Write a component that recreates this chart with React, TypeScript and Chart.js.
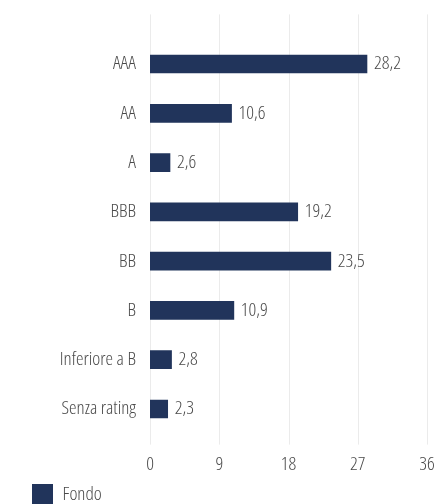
import React, { useEffect, useRef } from "react";
import { Chart, registerables } from "chart.js";

Chart.register(...registerables);

const categories = ["AAA", "AA", "A", "BBB", "BB", "B", "Inferiore a B", "Senza rating"];
const fondoValues = [28.2, 10.6, 2.6, 19.2, 23.5, 10.9, 2.8, 2.3];
const xTickValues = [0, 9, 18, 27, 36];
const seriesLabel = "Fondo";

const FONT_FAMILY = '"Open Sans", Roboto, sans-serif';
const FONT_SIZE = 19;
// font-stretch is passed through the weight slot of the canvas font shorthand
const baseFont = { family: FONT_FAMILY, size: FONT_SIZE, weight: "condensed 300" };
const TEXT = "#4a4a4a";
const BAR = "#21345b";
const GRID = "#ebebeb";

const fmt = (v: number) => v.toFixed(1).replace(".", ",");

const gridPlugin = {
  id: "extGrid",
  beforeDatasetsDraw(chart: any) {
    const { ctx, chartArea, scales } = chart;
    const x = scales.x;
    ctx.save();
    ctx.strokeStyle = GRID;
    ctx.lineWidth = 1;
    x.ticks.forEach((t: any) => {
      const px = Math.round(x.getPixelForValue(t.value)) + 0.5;
      ctx.beginPath();
      ctx.moveTo(px, chartArea.top - 25);
      ctx.lineTo(px, chartArea.bottom + 11);
      ctx.stroke();
    });
    ctx.restore();
  },
};

const valueLabelPlugin = {
  id: "valueLabels",
  afterDatasetsDraw(chart: any) {
    const ctx = chart.ctx;
    const meta = chart.getDatasetMeta(0);
    ctx.save();
    ctx.font = `condensed 300 ${FONT_SIZE}px ${FONT_FAMILY}`;
    ctx.fillStyle = TEXT;
    ctx.textAlign = "left";
    ctx.textBaseline = "middle";
    meta.data.forEach((bar: any, i: number) => {
      ctx.fillText(fmt(fondoValues[i]), bar.x + 7, bar.y);
    });
    ctx.restore();
  },
};

export default function App() {
  const canvasRef = useRef<HTMLCanvasElement | null>(null);

  useEffect(() => {
    if (!canvasRef.current) return;
    const chart = new Chart(canvasRef.current, {
      type: "bar",
      data: {
        labels: categories,
        datasets: [
          {
            label: seriesLabel,
            data: fondoValues,
            backgroundColor: BAR,
            borderWidth: 0,
            barThickness: 18,
          },
        ],
      },
      options: {
        indexAxis: "y",
        animation: false,
        responsive: true,
        maintainAspectRatio: false,
        layout: { padding: { top: 39.4, left: 22, right: 9, bottom: 5 } },
        scales: {
          x: {
            min: 0,
            max: 36,
            afterBuildTicks: (s: any) => {
              s.ticks = xTickValues.map((v) => ({ value: v }));
            },
            afterFit: (s: any) => {
              s.height = 40.4;
              s.paddingLeft = 0;
              s.paddingRight = 0;
            },
            grid: { display: false, drawTicks: false },
            border: { display: false },
            ticks: {
              color: TEXT,
              padding: 20,
              font: baseFont,
            },
          },
          y: {
            afterFit: (s: any) => {
              s.width = 128;
            },
            grid: { display: false, drawTicks: false },
            border: { display: false },
            ticks: {
              color: TEXT,
              padding: 14,
              font: baseFont,
            },
          },
        },
        plugins: {
          legend: {
            position: "bottom",
            align: "start",
            labels: {
              boxWidth: 21,
              boxHeight: 21,
              padding: 10,
              color: TEXT,
              font: baseFont,
            },
          },
          tooltip: { enabled: false },
        },
      },
      plugins: [gridPlugin, valueLabelPlugin],
    } as any);
    return () => chart.destroy();
  }, []);

  return (
    <div
      style={{
        position: "fixed",
        left: 0,
        top: 0,
        width: 436,
        height: 504,
        overflow: "hidden",
        background: "#ffffff",
      }}
    >
      <div style={{ position: "relative", width: 436, height: 520 }}>
        <canvas ref={canvasRef} />
      </div>
    </div>
  );
}
